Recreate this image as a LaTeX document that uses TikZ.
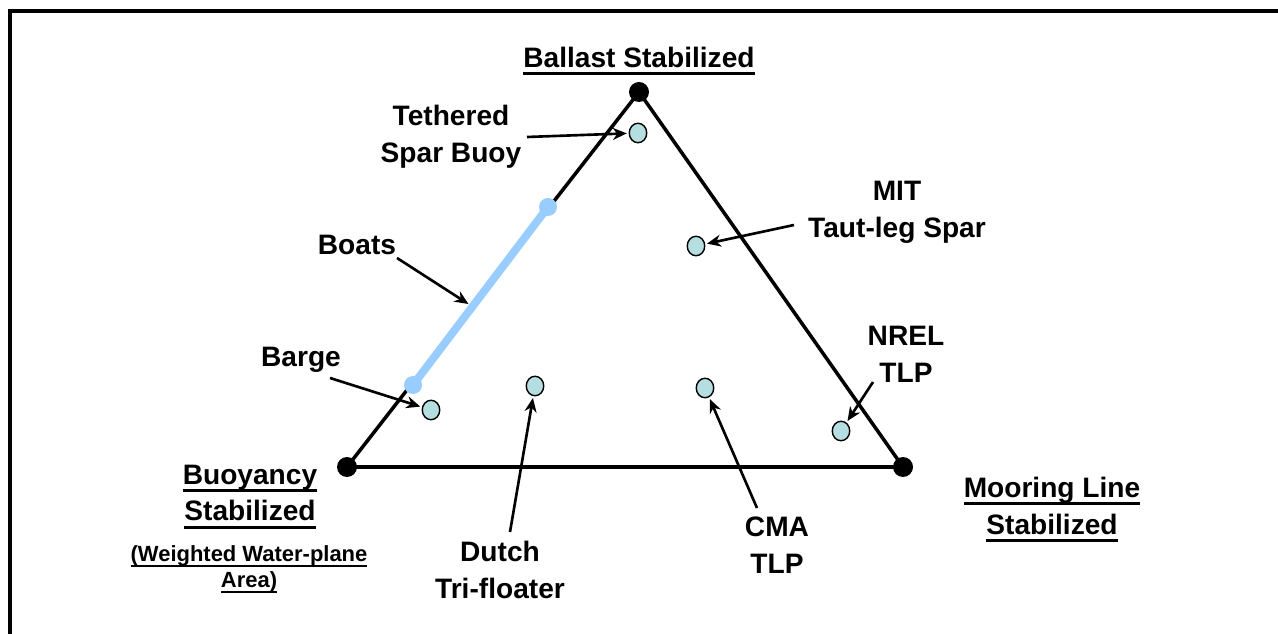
\documentclass[tikz,border=0pt]{standalone}
\usepackage{fontspec}
\setmainfont{Liberation Sans}
\usetikzlibrary{arrows.meta,shapes.geometric}
\newcommand\ulbox[1]{\setbox0\hbox{#1}\rlap{\smash{\vrule height -2.6pt depth 4.3pt width \wd0}}\box0}
\newcommand\ulsmall[1]{\setbox0\hbox{#1}\rlap{\smash{\vrule height -2pt depth 3.2pt width \wd0}}\box0}
\definecolor{dotfill}{RGB}{180,222,224}
\definecolor{boatblue}{RGB}{153,204,255}
\tikzset{
  lbl/.style={font=\fontsize{16}{21}\selectfont\bfseries, align=center, inner sep=0pt},
  smalllbl/.style={font=\fontsize{12.5}{15}\selectfont\bfseries, align=center, inner sep=0pt},
  design/.style={ellipse, draw=black, fill=dotfill, line width=0.8pt, minimum width=0.35cm, minimum height=0.39cm, inner sep=0pt},
  apex/.style={circle, fill=black, minimum size=0.4cm, inner sep=0pt},
  boatend/.style={circle, fill=boatblue, minimum size=0.36cm, inner sep=0pt},
  arr/.style={-{Stealth[length=0.28cm,width=0.24cm]}, line width=1.5pt, shorten >=1pt},
  edge/.style={line width=2pt}
}
\begin{document}
\begin{tikzpicture}[x=0.02cm,y=-0.02cm]
\useasboundingbox (0,0) rectangle (1278,634);
\fill[white] (0,0) rectangle (1278,634);
% frame
\draw[line width=1.8pt] (10,634) -- (10,11) -- (1278,11);

% triangle
\node[apex] (top) at (639,92) {};
\node[apex] (bl) at (347,467) {};
\node[apex] (br) at (903,467) {};
\draw[edge] (top.center) -- (bl.center) -- (br.center) -- cycle;

% boats line
\node[boatend] (b1) at (413,385) {};
\node[boatend] (b2) at (548,207) {};
\draw[boatblue, line width=4.5pt] (b1.center) -- (b2.center);

% designs
\node[design] (tsb) at (638,133) {};
\node[design] (mit) at (696,246) {};
\node[design] (barge) at (431,410) {};
\node[design] (dutch) at (535,386) {};
\node[design] (cma) at (705,388) {};
\node[design] (nrel) at (841,431) {};

% corner labels
\node[lbl] (ballast) at (639,57) {\ulbox{Ballast Stabilized}};
\node[lbl] (buoy) at (250,493) {\ulbox{Buoyancy}\\\ulbox{Stabilized}};
\node[smalllbl] (weighted) at (249,569) {\ulsmall{(Weighted Water-plane}\\\ulsmall{Area)}};
\node[lbl] (mooring) at (1052,506) {\ulbox{Mooring Line}\\\ulbox{Stabilized}};

% design labels
\node[lbl] (tsbL) at (451,137) {Tethered\\Spar Buoy};
\node[lbl] (mitL) at (897,212) {MIT\\Taut-leg Spar};
\node[lbl] (boatsL) at (357,245) {Boats};
\node[lbl] (bargeL) at (301,360) {Barge};
\node[lbl] (dutchL) at (500,570) {Dutch\\Tri-floater};
\node[lbl] (cmaL) at (777,545) {CMA\\TLP};
\node[lbl] (nrelL) at (906,354) {NREL\\TLP};

% arrow tails
\coordinate (tsbA) at (527,137);
\coordinate (mitA) at (794,225);
\coordinate (boatsA) at (397,258);
\coordinate (boatsB) at (470,305);
\coordinate (bargeA) at (330,378);
\coordinate (dutchA) at (510,532);
\coordinate (cmaA) at (757,508);
\coordinate (nrelA) at (873,382);

\draw[arr] (tsbA) -- (tsb);
\draw[arr] (mitA) -- (mit);
\draw[arr] (boatsA) -- (boatsB);
\draw[arr] (bargeA) -- (barge);
\draw[arr] (dutchA) -- (dutch);
\draw[arr] (cmaA) -- (cma);
\draw[arr] (nrelA) -- (nrel);
\end{tikzpicture}
\end{document}
